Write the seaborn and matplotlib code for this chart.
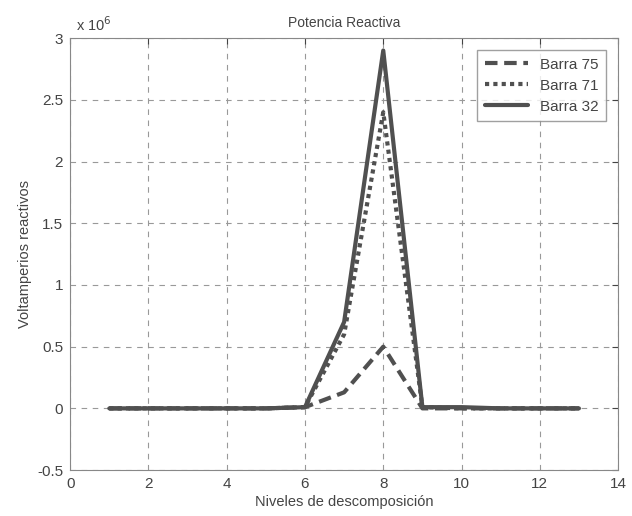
import numpy as np
import pandas as pd
import seaborn as sns
import matplotlib.pyplot as plt

# niveles de descomposicion
niveles = list(range(1, 14))
barra_75 = [0, 0, 0, 0, 0, 0.01, 0.13, 0.50, 0, 0, 0, 0, 0]
barra_71 = [0, 0, 0, 0, 0, 0.01, 0.60, 2.40, 0.01, 0, 0, 0, 0]
barra_32 = [0, 0, 0, 0, 0, 0.01, 0.70, 2.90, 0.01, 0.01, 0, 0, 0]
series = ["Barra 75", "Barra 71", "Barra 32"]

df = pd.DataFrame({
    "nivel": niveles * 3,
    "var": np.array(barra_75 + barra_71 + barra_32) * 1e6,
    "barra": sum([[s] * len(niveles) for s in series], []),
})

sns.set_style("white")
plt.rcParams["font.family"] = ["Liberation Sans", "DejaVu Sans"]

fig = plt.figure(figsize=(6.32, 5.16), dpi=100)
ax = fig.add_axes([0.111, 0.089, 0.867, 0.837])

estilos = {"Barra 75": (0, (3, 1.6)), "Barra 71": (0, (1, 1)), "Barra 32": "-"}
for s in series:
    sub = df[df["barra"] == s]
    sns.lineplot(data=sub, x="nivel", y="var", ax=ax, color="#505050",
                 linewidth=3, linestyle=estilos[s], label=s)

ax.set_xlim(0, 14)
ax.set_ylim(-0.5e6, 3e6)
ax.set_xticks(range(0, 15, 2))
ax.set_yticks(np.arange(-0.5, 3.01, 0.5) * 1e6)
ax.set_yticklabels(["-0.5", "0", "0.5", "1", "1.5", "2", "2.5", "3"])
ax.text(0.01, 1.01, r"x 10$^6$", transform=ax.transAxes, fontsize=10.5, color="#444444",
        ha="left", va="bottom")
ax.grid(True, linestyle=(0, (5, 5)), color="#999999", linewidth=0.8)
for sp in ax.spines.values():
    sp.set_color("#888888")
ax.tick_params(axis="both", labelsize=11, colors="#444444", direction="in", length=4,
               top=True, right=True, pad=5)
ax.set_title("Potencia Reactiva", fontsize=10, color="#444444", pad=8)
ax.set_xlabel("Niveles de descomposición", fontsize=10.5, color="#444444", labelpad=3)
ax.set_ylabel("Voltamperios reactivos", fontsize=10.5, color="#444444")

leg = ax.legend(loc="upper right", fontsize=11, frameon=True, fancybox=False,
                handlelength=2.8, borderpad=0.5, labelspacing=0.45,
                bbox_to_anchor=(0.992, 0.99))
leg.get_frame().set_edgecolor("#888888")
for t in leg.get_texts():
    t.set_color("#444444")

fig.savefig("out.png", dpi=100)
